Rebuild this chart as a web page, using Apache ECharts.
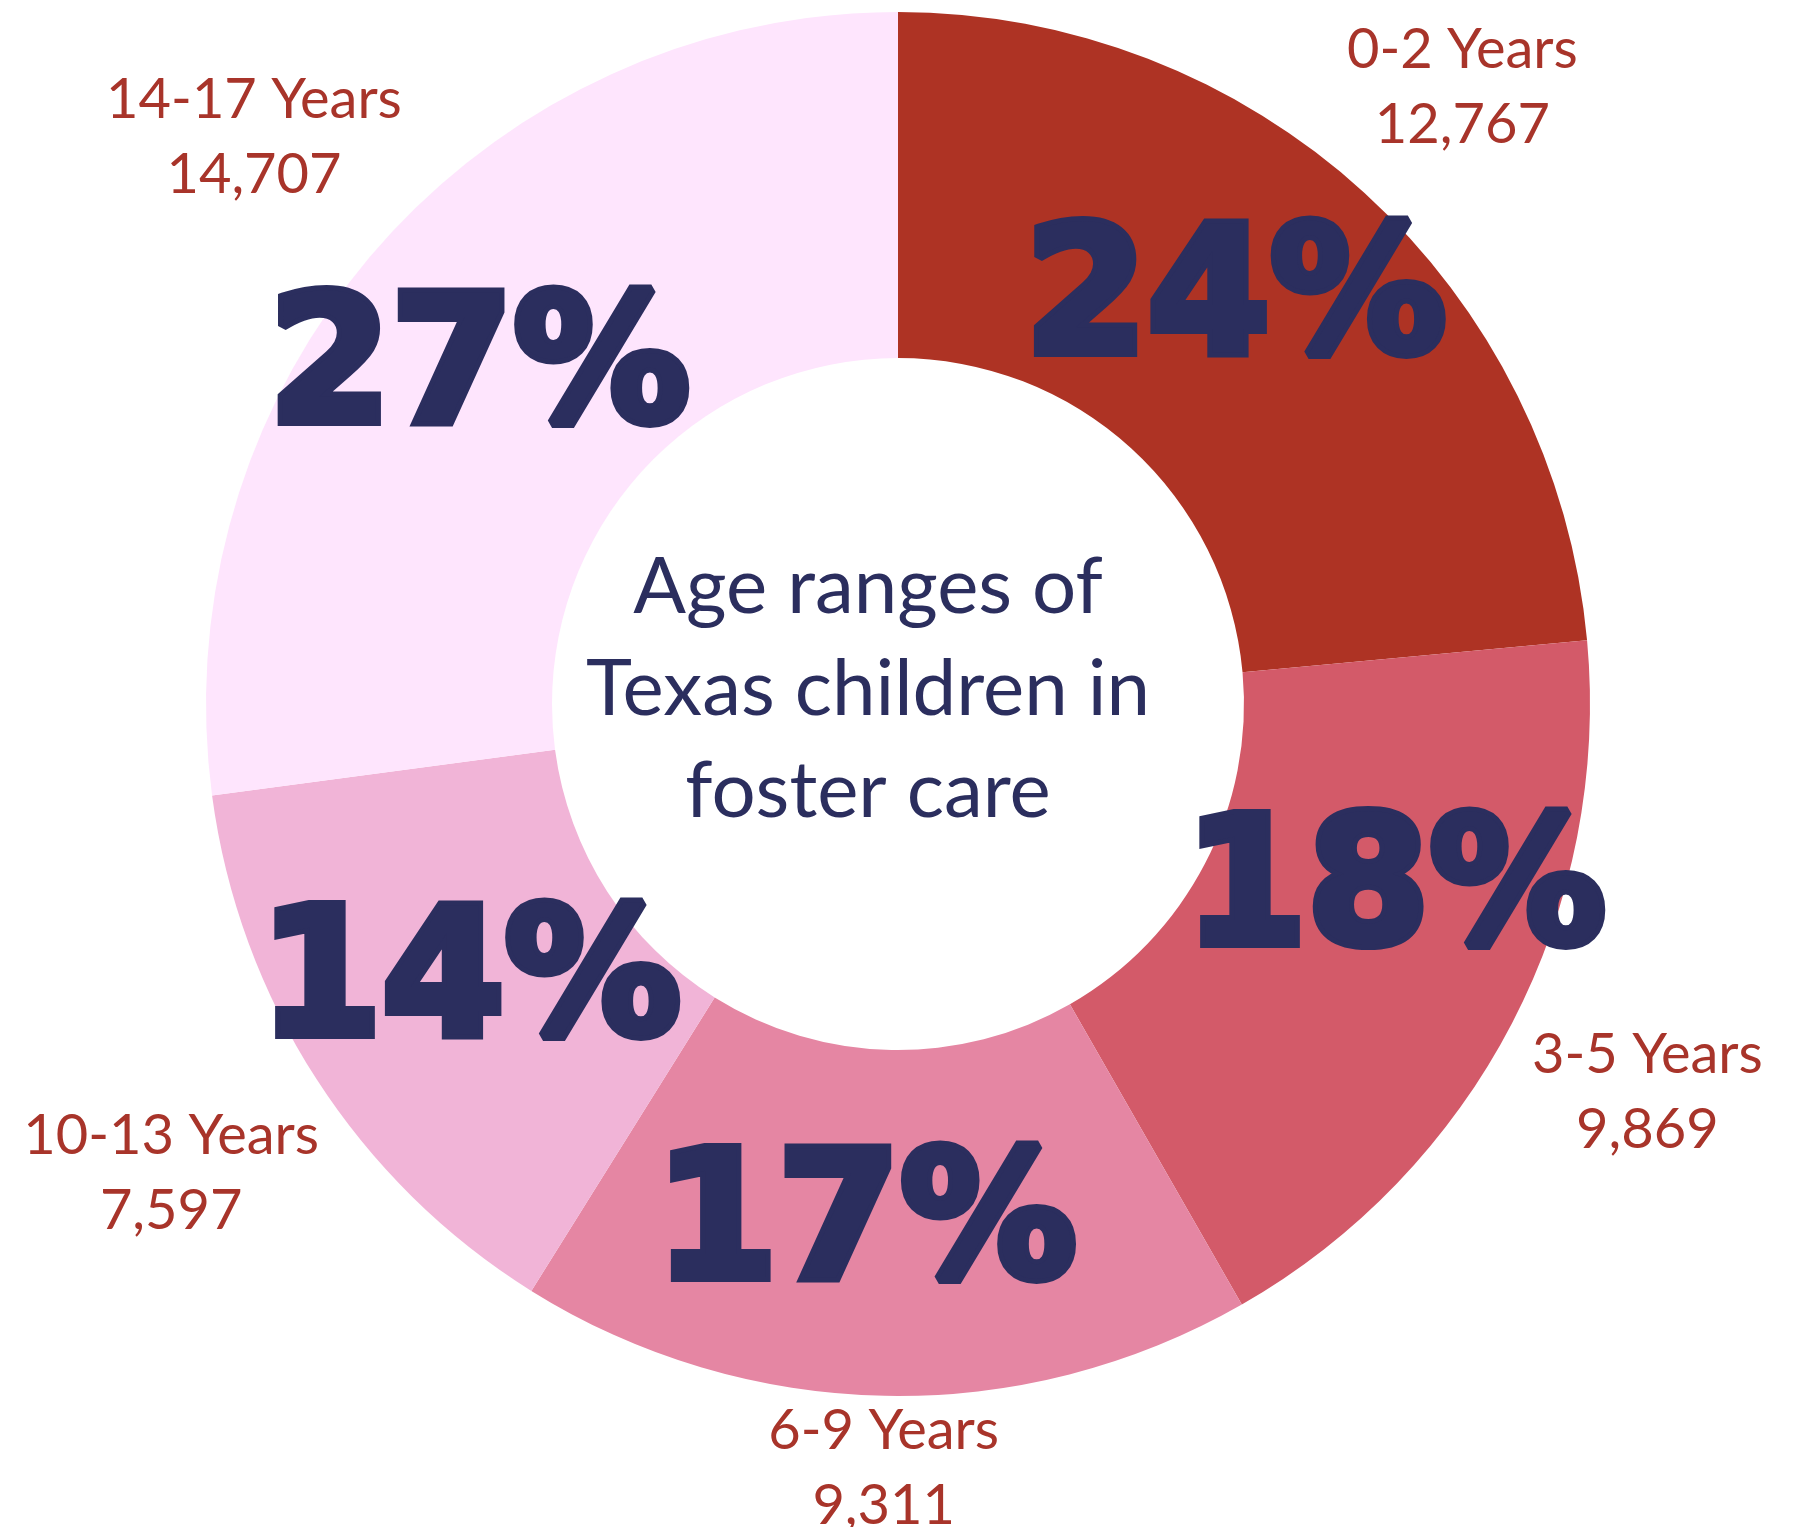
<!DOCTYPE html>
<html>
<head>
<meta charset="utf-8">
<script src="https://cdn.jsdelivr.net/npm/echarts@6/dist/echarts.min.js"></script>
<style>html,body{margin:0;padding:0;background:#fff}#c{width:1814px;height:1527px}</style>
</head>
<body>
<div id="c"></div>
<script>
var categories = ['0-2 Years', '3-5 Years', '6-9 Years', '10-13 Years', '14-17 Years'];
var values = [12767, 9869, 9311, 7597, 14707];
var centerTitle = 'Age ranges of\nTexas children in\nfoster care';

var colors = ['#AE3324', '#D35A69', '#E586A3', '#F1B4D7', '#FEE5FD'];
var pctOffsets = [[-14, -12], [34, -47], [-22, 5], [11, 2], [-26, 15]];
var catOffsets = [[-7, 10], [-3, -3], [2, -83], [-14, 10], [-6, -8]];

var total = values.reduce(function (a, b) { return a + b; }, 0);
var navy = '#2B2E5E';
var red = '#A8342A';

var mainData = categories.map(function (c, i) {
  return {
    name: c, value: values[i],
    itemStyle: { color: colors[i] },
    label: { offset: pctOffsets[i] }
  };
});
var labelData = categories.map(function (c, i) {
  return {
    name: c, value: values[i],
    label: { offset: catOffsets[i] }
  };
});

var chart = echarts.init(document.getElementById('c'), null, { renderer: 'canvas' });
chart.setOption({
  animation: false,
  backgroundColor: '#ffffff',
  graphic: [{
    type: 'text', x: 868, y: 690, silent: true,
    style: {
      text: centerTitle, align: 'center', verticalAlign: 'middle',
      fill: navy, font: '400 78px Lato, "Open Sans", sans-serif', lineHeight: 102
    }
  }],
  series: [{
    type: 'pie',
    center: [898, 704],
    radius: [346, 692],
    startAngle: 90,
    clockwise: true,
    avoidLabelOverlap: false,
    silent: true,
    itemStyle: { borderWidth: 0 },
    labelLine: { show: false },
    emphasis: { disabled: true },
    label: {
      show: true, position: 'inside',
      color: navy, fontFamily: '"DejaVu Sans", Lato, sans-serif', fontWeight: 'bold',
      fontSize: 176, textBorderColor: navy, textBorderWidth: 10,
      formatter: function (p) { return Math.round(p.value / total * 100) + '%'; }
    },
    data: mainData
  }, {
    type: 'pie',
    center: [898, 704],
    radius: [790, 900],
    startAngle: 90,
    clockwise: true,
    avoidLabelOverlap: false,
    silent: true,
    itemStyle: { color: 'rgba(0,0,0,0)', borderWidth: 0 },
    labelLine: { show: false },
    emphasis: { disabled: true },
    label: {
      show: true, position: 'inside',
      color: red, fontFamily: 'Lato, "Open Sans", sans-serif', fontWeight: 400,
      fontSize: 56, lineHeight: 75, align: 'center',
      formatter: function (p) { return p.name + '\n' + p.value.toLocaleString('en-US'); }
    },
    data: labelData
  }]
});
</script>
</body>
</html>
